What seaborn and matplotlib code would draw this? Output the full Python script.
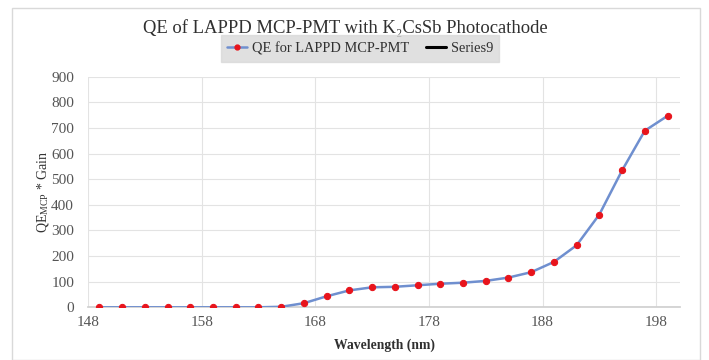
import matplotlib
matplotlib.use("Agg")
import matplotlib.pyplot as plt
import seaborn as sns
import pandas as pd
from matplotlib.lines import Line2D
from matplotlib.patches import Rectangle

wavelength = [149, 151, 153, 155, 157, 159, 161, 163, 165, 167, 169, 171, 173,
              175, 177, 179, 181, 183, 185, 187, 189, 191, 193, 195, 197, 199]
qe_gain = [0, 0, 0, 0, 0, 0, 0, 0, 2, 16, 43, 66, 78,
           80, 86, 92, 96, 103, 116, 137, 177, 242, 362, 534, 689, 747]
x_ticks = [148, 158, 168, 178, 188, 198]
y_ticks = [0, 100, 200, 300, 400, 500, 600, 700, 800, 900]

sns.set_theme(style="white")
plt.rcParams['font.family'] = ['Liberation Serif', 'DejaVu Serif']
plt.rcParams['mathtext.fontset'] = 'stix'

df = pd.DataFrame({"Wavelength": wavelength, "QE": qe_gain})

fig = plt.figure(figsize=(7.09, 3.6), dpi=100)
fig.patch.set_facecolor("white")
fig.patches.append(Rectangle((12/709, 0.0), 688/709, 1 - 8/360, transform=fig.transFigure,
                             fill=False, edgecolor="#d9d9d9", linewidth=1.0))
ax = fig.add_axes([88/709, 1 - 307.3/360, 592/709, (307.3 - 76.7)/360])

line_color = "#6f8fcf"
sns.lineplot(data=df, x="Wavelength", y="QE", ax=ax, color=line_color, linewidth=1.8,
             marker="o", markersize=4.5, markerfacecolor="#e8141c", markeredgecolor="#e8141c",
             zorder=3)

ax.set_xlim(148, 200.1)
ax.set_ylim(0, 900)
ax.set_xticks(x_ticks)
ax.set_yticks(y_ticks)
ax.grid(True, color="#e3e3e3", linewidth=0.8)
for s in ["top", "right", "left"]:
    ax.spines[s].set_visible(False)
ax.spines["bottom"].set_color("#d0d0d0")
ax.tick_params(axis="x", labelsize=11, length=0, pad=6)
ax.tick_params(axis="y", labelsize=11, length=0, pad=10)
for lbl in ax.get_xticklabels() + ax.get_yticklabels():
    lbl.set_color("#555555")

ax.set_xlabel("Wavelength (nm)", fontsize=9.8, fontweight="bold", color="#303030", labelpad=7)
ax.set_ylabel(r"QE$_{\mathregular{MCP}}$ * Gain", fontsize=10, color="#333333", labelpad=0)

fig.text(345/709, 1 - 28/360, "QE of LAPPD MCP-PMT with K\u2082CsSb Photocathode",
         ha="center", va="center", fontsize=13.4, color="#303030")

handles = [Line2D([], [], color=line_color, linewidth=1.8, marker="o", markersize=3.5,
                  markerfacecolor="#e8141c", markeredgecolor="#e8141c"),
           Line2D([], [], color="black", linewidth=2.2)]
leg = fig.legend(handles, ["QE for LAPPD MCP-PMT", "Series9"], loc="center",
                 bbox_to_anchor=(360/709, 1 - 48.5/360), ncol=2, frameon=True, fontsize=10.4,
                 handlelength=1.4, handletextpad=0.3, columnspacing=1.2, borderpad=0.45,
                 fancybox=False)
leg.get_frame().set_facecolor("#d9d9d9")
leg.get_frame().set_edgecolor("#d9d9d9")
for t in leg.get_texts():
    t.set_color("#303030")

fig.savefig("out.png", dpi=100)
